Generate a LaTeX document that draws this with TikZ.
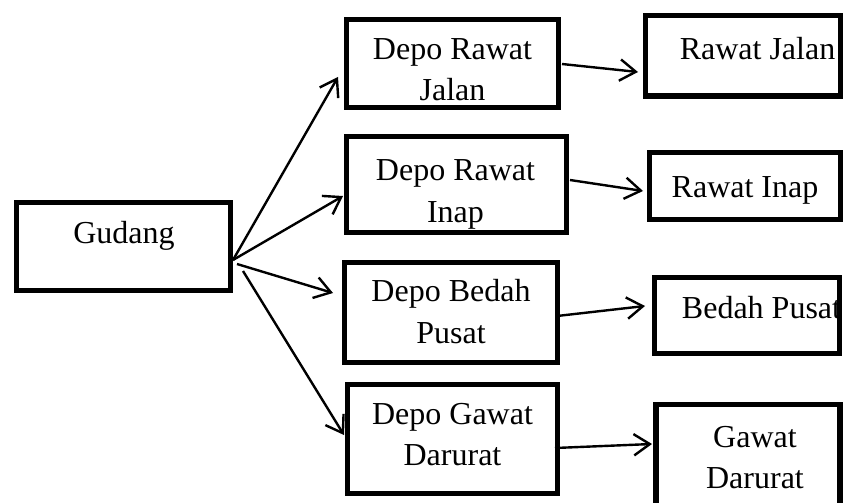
\documentclass[tikz,border=0pt]{standalone}
\usepackage{fontspec}
\setmainfont{Liberation Serif}
\usetikzlibrary{arrows.meta,calc}
\begin{document}
\begin{tikzpicture}[x=0.75pt,y=-0.75pt,
  box/.style={draw=black,line width=4pt,rectangle,inner sep=0pt,outer sep=0pt},
  txt/.style={inner sep=0pt,align=center,font=\fontsize{24}{31}\selectfont},
  arr/.style={draw=black,line width=1.8pt,-{Straight Barb[length=12pt,width=16pt,line width=1.8pt]}}]
\useasboundingbox (0,0) rectangle (844,503);
\fill[white] (0,0) rectangle (844,503);
% boxes
\node[box,minimum width=214*0.75pt,minimum height=88*0.75pt] (gud) at (123.5,246.5) {};
\node[box,minimum width=212*0.75pt,minimum height=88*0.75pt] (drj) at (452.5,63.5) {};
\node[box,minimum width=195*0.75pt,minimum height=80.5*0.75pt] (rj) at (743,55.75) {};
\node[box,minimum width=220*0.75pt,minimum height=96*0.75pt] (dri) at (456.5,184.5) {};
\node[box,minimum width=191*0.75pt,minimum height=67*0.75pt] (ri) at (745,186) {};
\node[box,minimum width=213*0.75pt,minimum height=100*0.75pt] (dbp) at (451,312.5) {};
\node[box,minimum width=185*0.75pt,minimum height=76*0.75pt] (bp) at (747,315.5) {};
\node[box,minimum width=210*0.75pt,minimum height=109*0.75pt] (dgd) at (452.5,439) {};
\node[box,minimum width=184*0.75pt,minimum height=115.5*0.75pt] (gd) at (748,462.25) {};
% texts
\node[txt] (tgud) at (124,235.5) {Gudang};
\node[txt] (tdrj) at (452.5,69.5) {Depo Rawat\\Jalan};
\node[txt] (trj) at (757.5,49) {Rawat Jalan};
\node[txt] (tdri) at (455.5,194.5) {Depo Rawat\\Inap};
\node[txt] (tri) at (745,190) {Rawat Inap};
\node[txt] (tdbp) at (451,311.5) {Depo Bedah\\Pusat};
\node[txt] (tbp) at (761.5,307.5) {Bedah Pusat};
\node[txt] (tdgd) at (452.5,434.5) {Depo Gawat\\Darurat};
\node[txt] (tgd) at (755,457.5) {Gawat\\Darurat};
% connectors from Gudang
\draw[arr] ($(gud.east)+(2.5,13.5)$) -- ($(drj.west)+(-8.5,13.5)$);
\draw[arr] ($(gud.east)+(2.5,13.5)$) -- ($(dri.west)+(-3.5,11.5)$);
\draw[arr] ($(gud.east)+(6.5,17.5)$) -- ($(dbp.west)+(-11.5,-19.5)$);
\draw[arr] ($(gud.east)+(12.5,24.5)$) -- ($(dgd.west)+(-3.5,-4)$);
% connectors depo -> unit
\draw[arr] ($(drj.east)+(3.5,0.5)$) -- ($(rj.west)+(-7.5,16.25)$);
\draw[arr] ($(dri.east)+(3.5,-4.5)$) -- ($(ri.west)+(-6.5,5)$);
\draw[arr] ($(dbp.east)+(-0.5,3.5)$) -- ($(bp.west)+(-9.5,-9.5)$);
\draw[arr] ($(dgd.east)+(-2.5,9)$) -- ($(gd.west)+(-4,-18.25)$);
\end{tikzpicture}
\end{document}
